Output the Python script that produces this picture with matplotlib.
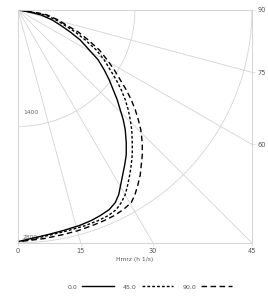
import numpy as np
import matplotlib.pyplot as plt

# curves, as horizontal / vertical distance from the apex (same units as radius)
depth = [0, 12, 36, 60, 120, 180, 264, 360, 480, 600, 720, 840, 960, 1080, 1200, 1320,
         1440, 1596, 1740, 1860, 1980, 2100, 2220, 2316, 2400, 2472, 2532, 2592, 2652, 2700, 2748, 2784]
reach_00 = [0, 72, 180, 276, 408, 504, 624, 744, 852, 960, 1032, 1092, 1140, 1188, 1224, 1260,
            1284, 1296, 1296, 1278, 1254, 1230, 1206, 1164, 1092, 984, 876, 732, 540, 360, 156, 0]
reach_45 = [0, 84, 216, 324, 456, 552, 684, 804, 936, 1032, 1104, 1176, 1236, 1284, 1320, 1344,
            1362, 1368, 1368, 1356, 1338, 1314, 1284, 1236, 1176, 1080, 960, 804, 600, 408, 204, 12]
reach_90 = [0, 96, 240, 348, 480, 576, 720, 840, 972, 1068, 1152, 1224, 1296, 1356, 1404, 1440,
            1470, 1488, 1488, 1476, 1464, 1436, 1400, 1356, 1260, 1152, 1032, 888, 720, 540, 312, 24]

labels = ['0.0', '45.0', '90.0']
styles = ['-', (0, (2, 1.5)), (0, (4, 2.5))]

grid_angles = [15, 30, 45, 60, 75]
grid_radii = [1400, 2800]
radius_label_y = [-1260, -2760]
bottom_ticks = [0, 15, 30, 45]
right_ticks = [90, 75, 60]
rmax = 2800

fig = plt.figure(figsize=(2.68, 3.01), dpi=100)
ax = fig.add_axes([0.067, 0.193, 0.873, 0.774])
grey = '#d4d4d4'

# radial grid lines (angle measured from straight down)
for a in grid_angles:
    t = np.radians(a)
    ax.plot([0, 2 * rmax * np.sin(t)], [0, -2 * rmax * np.cos(t)], color=grey, lw=0.6, zorder=1)
# circular grid lines
tt = np.radians(np.linspace(0, 90, 200))
for rr, ly in zip(grid_radii, radius_label_y):
    ax.plot(rr * np.sin(tt), -rr * np.cos(tt), color=grey, lw=0.6, zorder=1)
    ax.text(60, ly, str(rr), fontsize=4.3, color='#666666', ha='left', va='bottom')

for reach, lab, ls in zip([reach_00, reach_45, reach_90], labels, styles):
    ax.plot(reach, [-d for d in depth], color='black', lw=1.0, ls=ls, label=lab, zorder=3)

ax.set_xlim(0, rmax)
ax.set_ylim(-rmax, 0)

ax.set_xticks([rmax * np.tan(np.radians(a)) for a in bottom_ticks])
ax.set_xticklabels([str(a) for a in bottom_ticks])
ax.set_yticks([])
ax.tick_params(axis='x', labelsize=4.8, length=2, width=0.5, color=grey, pad=2, labelcolor='#555555')

ax2 = ax.twinx()
ax2.set_ylim(-rmax, 0)
ax2.set_yticks([0 if a == 90 else -rmax / np.tan(np.radians(a)) for a in right_ticks])
ax2.set_yticklabels([str(a) for a in right_ticks])
ax2.tick_params(axis='y', labelsize=4.8, length=2, width=0.5, color=grey, pad=2, labelcolor='#555555')

for a in (ax, ax2):
    for s in a.spines.values():
        s.set_color(grey)
        s.set_linewidth(0.6)

ax.set_xlabel('Hmrz (h 1/s)', fontsize=4.3, color='#555555', labelpad=2)

handles, labs = ax.get_legend_handles_labels()
fig.legend(handles, labs, loc='center', bbox_to_anchor=(0.56, 0.047), ncol=3,
           frameon=False, fontsize=4.5, markerfirst=False, handlelength=5,
           columnspacing=1.5, handletextpad=0.8, labelcolor='#555555')

fig.savefig('out.png', dpi=100)
